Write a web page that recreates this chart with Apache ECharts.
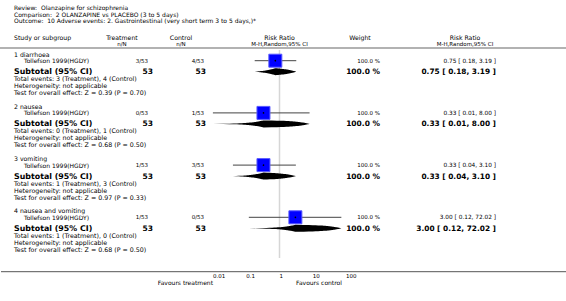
<!DOCTYPE html>
<html>
<head>
<meta charset="utf-8">
<script src="https://cdn.jsdelivr.net/npm/echarts@6/dist/echarts.min.js"></script>
<style>
  html, body { margin: 0; padding: 0; background: #fff; }
  #chart { width: 566px; height: 301px; }
</style>
</head>
<body>
<div id="chart"></div>
<script>
  // data
  var groupNames = ['1 diarrhoea', '2 nausea', '3 vomiting', '4 nausea and vomiting'];
  var studyName = 'Tollefson 1999(HGDY)';
  var trtEvents = [3, 0, 1, 1];
  var ctlEvents = [4, 1, 3, 0];
  var trtTotal = [53, 53, 53, 53];
  var ctlTotal = [53, 53, 53, 53];
  var riskRatio = [0.75, 0.33, 0.33, 3.00];
  var ciLow = [0.18, 0.01, 0.04, 0.12];
  var ciHigh = [3.19, 8.00, 3.10, 72.02];
  var weightPct = [100, 100, 100, 100];
  var zValue = [0.39, 0.68, 0.97, 0.68];
  var pValue = [0.70, 0.50, 0.33, 0.50];
  var xTickLabels = ['0.01', '0.1', '1', '10', '100'];
  var titleLines = [
    'Review:  Olanzapine for schizophrenia',
    'Comparison:  2 OLANZAPINE vs PLACEBO (3 to 5 days)',
    'Outcome:  10 Adverse events: 2. Gastrointestinal (very short term 3 to 5 days,)*'
  ];

  // layout (pixels)
  var firstRow = 60.7, groupStep = 52.2, axisY = 271.7;
  var FONT = '"DejaVu Sans", Verdana, sans-serif';

  function rowY(g, off) { return firstRow + g * groupStep + off; }
  function f2(v) { return v.toFixed(2); }

  var texts = [];
  function t(x, y, str, size, align, bold) {
    texts.push({
      type: 'text',
      silent: true,
      style: {
        x: x, y: y, text: str,
        font: (bold ? 'bold ' : '') + size + 'px ' + FONT,
        fill: '#000',
        textAlign: align || 'left',
        textVerticalAlign: 'middle',
        textBaseline: 'middle'
      }
    });
  }

  titleLines.forEach(function (s, i) { t(14, 7.5 + i * 6.5, s, 6, 'left'); });

  // column headers
  t(14, 37.5, 'Study or subgroup', 6.2, 'left');
  t(122, 37.5, 'Treatment', 6.2, 'center');
  t(122, 43.5, 'n/N', 5.5, 'center');
  t(181, 37.5, 'Control', 6.2, 'center');
  t(181, 43.5, 'n/N', 5.5, 'center');
  t(279.5, 37.5, 'Risk Ratio', 6.2, 'center');
  t(279.5, 43.5, 'M-H,Random,95% CI', 5.5, 'center');
  t(360, 37.5, 'Weight', 6.2, 'center');
  t(465, 37.5, 'Risk Ratio', 6.2, 'center');
  t(465, 43.5, 'M-H,Random,95% CI', 5.5, 'center');

  groupNames.forEach(function (name, g) {
    var ci = f2(riskRatio[g]) + ' [ ' + f2(ciLow[g]) + ', ' + f2(ciHigh[g]) + ' ]';
    var w = weightPct[g].toFixed(1) + ' %';
    t(14, rowY(g, -6.5), name, 6.2, 'left');
    t(24, rowY(g, 0), studyName, 6, 'left');
    t(148, rowY(g, 0), trtEvents[g] + '/' + trtTotal[g], 5.5, 'right');
    t(204, rowY(g, 0), ctlEvents[g] + '/' + ctlTotal[g], 5.5, 'right');
    t(380, rowY(g, 0), w, 5.5, 'right');
    t(496, rowY(g, 0), ci, 5.8, 'right');
    t(14, rowY(g, 11), 'Subtotal (95% CI)', 7.9, 'left', true);
    t(153, rowY(g, 11), String(trtTotal[g]), 7.5, 'right', true);
    t(206, rowY(g, 11), String(ctlTotal[g]), 7.5, 'right', true);
    t(380, rowY(g, 11), w, 7.5, 'right', true);
    t(496, rowY(g, 11), ci, 7.4, 'right', true);
    t(14, rowY(g, 18), 'Total events: ' + trtEvents[g] + ' (Treatment), ' + ctlEvents[g] + ' (Control)', 6.3, 'left');
    t(14, rowY(g, 25), 'Heterogeneity: not applicable', 6.3, 'left');
    t(14, rowY(g, 32), 'Test for overall effect: Z = ' + f2(zValue[g]) + ' (P = ' + f2(pValue[g]) + ')', 6.3, 'left');
  });

  t(213, 282, 'Favours treatment', 6, 'right');
  t(296, 282, 'Favours control', 6, 'left');

  var lines = [
    { type: 'line', silent: true, shape: { x1: 0, y1: 48, x2: 566, y2: 48 }, style: { stroke: '#999', lineWidth: 1.5 } },
    { type: 'line', silent: true, shape: { x1: 1, y1: axisY, x2: 566, y2: axisY }, style: { stroke: '#555', lineWidth: 1 } }
  ];

  var studyData = [], poolData = [];
  groupNames.forEach(function (n, g) {
    studyData.push([ciLow[g], ciHigh[g], riskRatio[g], rowY(g, 0), weightPct[g]]);
    poolData.push([ciLow[g], riskRatio[g], ciHigh[g], rowY(g, 11)]);
  });

  var chart = echarts.init(document.getElementById('chart'), null, { renderer: 'svg' });
  chart.setOption({
    animation: false,
    grid: { left: 212.9, right: 219.9, top: 0, bottom: 301 - axisY },
    xAxis: {
      type: 'log',
      logBase: 10,
      min: 0.01,
      max: 100,
      axisLine: { show: false },
      axisTick: { show: true, inside: true, length: 3, lineStyle: { color: '#555' } },
      splitLine: { show: false },
      axisLabel: {
        align: 'left',
        margin: 1.5,
        fontSize: 5.5,
        fontFamily: 'DejaVu Sans',
        color: '#000',
        formatter: function (v) {
          var i = Math.round(Math.log10(v)) + 2;
          return xTickLabels[i] || '';
        }
      }
    },
    yAxis: { type: 'value', min: 0, max: axisY, inverse: true, show: false },
    series: [{
      type: 'custom',
      silent: true,
      data: [[1, 50, 258]],
      renderItem: function (params, api) {
        var a = api.coord([api.value(0), api.value(1)]);
        var b = api.coord([api.value(0), api.value(2)]);
        return { type: 'line', shape: { x1: a[0], y1: a[1], x2: b[0], y2: b[1] }, style: { stroke: '#d6d6d6', lineWidth: 1.5 } };
      }
    }, {
      type: 'custom',
      silent: true,
      data: studyData,
      renderItem: function (params, api) {
        var y = api.value(3);
        var a = api.coord([api.value(0), y]);
        var b = api.coord([api.value(1), y]);
        var c = api.coord([api.value(2), y]);
        var s = 13 * Math.sqrt(api.value(4) / 100);
        return {
          type: 'group',
          children: [
            { type: 'line', shape: { x1: a[0], y1: a[1], x2: b[0], y2: b[1] }, style: { stroke: '#444', lineWidth: 1 } },
            { type: 'rect', shape: { x: c[0] - s / 2, y: c[1] - s / 2, width: s, height: s }, style: { fill: '#0000ff', stroke: '#5a5aff', lineWidth: 1 } },
            { type: 'circle', shape: { cx: c[0], cy: c[1], r: 0.8 }, style: { fill: '#000' } }
          ]
        };
      }
    }, {
      type: 'custom',
      silent: true,
      data: poolData,
      renderItem: function (params, api) {
        var lo = api.value(0), mid = api.value(1), hi = api.value(2), y = api.value(3);
        var half = 3.5, n = 30, top = [], bot = [], i, v, h;
        for (i = 0; i <= n; i++) {
          v = lo + (mid - lo) * i / n; h = half * i / n;
          top.push(api.coord([v, y - h])); bot.push(api.coord([v, y + h]));
        }
        for (i = 1; i <= n; i++) {
          v = mid + (hi - mid) * i / n; h = half * (1 - i / n);
          top.push(api.coord([v, y - h])); bot.push(api.coord([v, y + h]));
        }
        return { type: 'polygon', shape: { points: top.concat(bot.reverse()) }, style: { fill: '#000' } };
      }
    }],
    graphic: lines.concat(texts)
  });
</script>
</body>
</html>
